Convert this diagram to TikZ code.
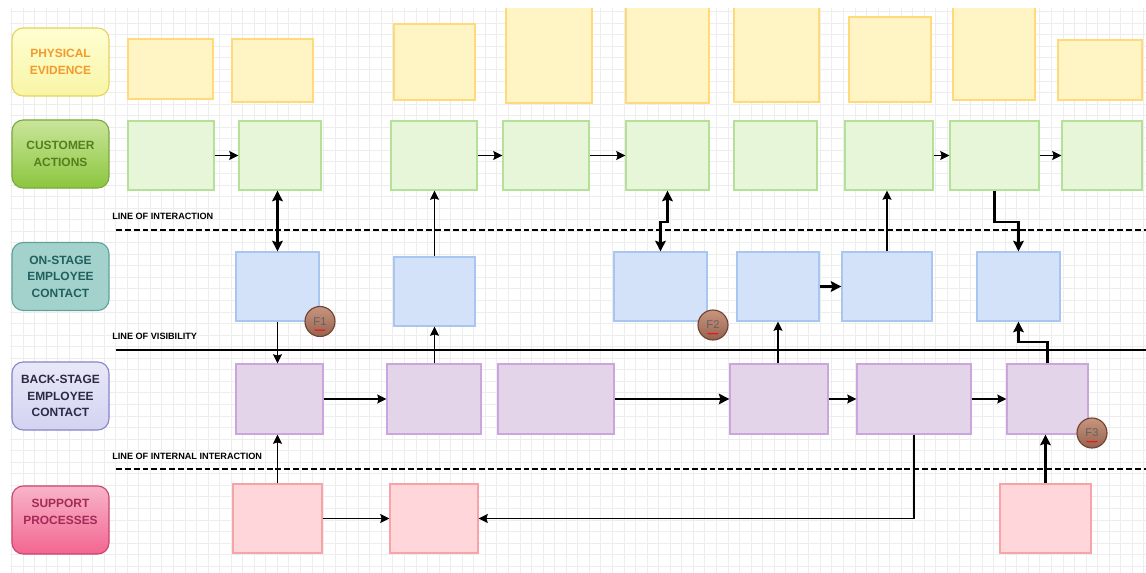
\documentclass[tikz,border=0pt]{standalone}
\usepackage{fontspec}
\setmainfont{Liberation Sans}
\usepackage{tikz}
\usetikzlibrary{arrows.meta, decorations.pathmorphing}

\definecolor{gridgray}{HTML}{EDEDED}
\definecolor{evidfill}{HTML}{FFF4C4}
\definecolor{evidline}{HTML}{FFD97A}
\definecolor{actfill}{HTML}{E7F5D9}
\definecolor{actline}{HTML}{B5E09A}
\definecolor{onfill}{HTML}{D3E2F8}
\definecolor{online}{HTML}{A8C6F0}
\definecolor{backfill}{HTML}{E3D4EA}
\definecolor{backline}{HTML}{CBA6DC}
\definecolor{suppfill}{HTML}{FFD6DA}
\definecolor{suppline}{HTML}{F8A3A8}
\definecolor{failtop}{HTML}{C8967F}
\definecolor{failbot}{HTML}{966250}
\definecolor{failline}{HTML}{6E4332}
% lane title colours
\definecolor{peline}{HTML}{E8D25A}
\definecolor{petop}{HTML}{FEFED2}
\definecolor{pebot}{HTML}{F8F5A6}
\definecolor{petext}{HTML}{F39A2E}
\definecolor{caline}{HTML}{7DA83E}
\definecolor{catop}{HTML}{C9E59A}
\definecolor{cabot}{HTML}{8CC63F}
\definecolor{catext}{HTML}{557F1E}
\definecolor{osline}{HTML}{5FA29C}
\definecolor{osfill}{HTML}{A3D2CC}
\definecolor{ostext}{HTML}{215F5F}
\definecolor{bsline}{HTML}{8585CC}
\definecolor{bstop}{HTML}{E8E8F8}
\definecolor{bsbot}{HTML}{D3D3F1}
\definecolor{bstext}{HTML}{2A2A44}
\definecolor{spline}{HTML}{C8466E}
\definecolor{sptop}{HTML}{F8B4CA}
\definecolor{spbot}{HTML}{F26690}
\definecolor{sptext}{HTML}{A32A55}

\begin{document}
\begin{tikzpicture}[x=0.025cm, y=-0.025cm]
    \tikzstyle{lane} = [rectangle, rounded corners=8pt, minimum width=2.425cm, minimum height=1.7cm, align=center, line width=0.8pt, font=\bfseries\fontsize{8.5}{11.7}\selectfont]
    \tikzstyle{evidence} = [rectangle, inner sep=0, draw=evidline, fill=evidfill, line width=0.9pt]
    \tikzstyle{action} = [rectangle, inner sep=0, minimum height=1.725cm, draw=actline, fill=actfill, line width=0.9pt]
    \tikzstyle{onstage} = [rectangle, inner sep=0, minimum height=1.725cm, draw=online, fill=onfill, line width=0.9pt]
    \tikzstyle{backstage} = [rectangle, inner sep=0, minimum height=1.75cm, draw=backline, fill=backfill, line width=0.9pt]
    \tikzstyle{support} = [rectangle, inner sep=0, minimum height=1.725cm, draw=suppline, fill=suppfill, line width=0.9pt]
    \tikzstyle{linelabel} = [anchor=west, inner sep=0, font=\bfseries\fontsize{6.5}{8}\selectfont]
    \tikzstyle{failpoint} = [circle, minimum size=0.75cm, inner sep=0, top color=failtop, bottom color=failbot, draw=failline, line width=0.8pt, text=black!62, font=\fontsize{8}{9}\selectfont]
    \tikzstyle{squiggle} = [red, line width=0.45pt, decorate, decoration={snake, amplitude=0.35pt, segment length=1.6pt}]
    \tikzstyle{arrow} = [line width=0.8pt, ->, >={Stealth[length=6.5pt, width=6.5pt, inset=1pt]}]
    \tikzstyle{thickarrow} = [line width=1.6pt, ->, >={Stealth[length=7.5pt, width=7.5pt, inset=1.2pt]}]

    % canvas and grid
    \useasboundingbox (0,0) rectangle (1146,573);
    \fill [white] (0,0) rectangle (1146,573);
    \draw [gridgray, line width=0.5pt, step=0.28875cm] (10,8) grid (1146,573);

    % lane titles
    \node (pe) [lane, draw=peline, top color=petop, bottom color=pebot, text=petext] at (60.5,62) {PHYSICAL\\EVIDENCE};
    \node (ca) [lane, draw=caline, top color=catop, bottom color=cabot, text=catext] at (60.5,154) {CUSTOMER\\ACTIONS};
    \node (os) [lane, draw=osline, fill=osfill, text=ostext] at (60.5,276.5) {ON-STAGE\\EMPLOYEE\\CONTACT};
    \node (bs) [lane, draw=bsline, top color=bstop, bottom color=bsbot, text=bstext] at (60.5,396) {BACK-STAGE\\EMPLOYEE\\CONTACT};
    \node (sp) [lane, draw=spline, top color=sptop, bottom color=spbot, text=sptext] at (60.5,520) {SUPPORT\\PROCESSES\\ \mbox{}};

    % separation lines
    \node (interaction) [linelabel] at (112,216) {LINE OF INTERACTION};
    \node (visibility) [linelabel] at (112,336) {LINE OF VISIBILITY};
    \node (internal) [linelabel] at (112,456) {LINE OF INTERNAL INTERACTION};
    \draw [line width=1.4pt, dash pattern=on 4.2pt off 2.1pt] (116,230) -- (1146,230);
    \draw [line width=1.3pt] (116,350) -- (1146,350);
    \draw [line width=1.4pt, dash pattern=on 4.2pt off 2.1pt] (116,469) -- (1146,469);

    % physical evidence
    \node (pe1) [evidence, minimum width=2.125cm, minimum height=1.5cm] at (170.5,69) {};
    \node (pe2) [evidence, minimum width=2.025cm, minimum height=1.575cm] at (272.5,70.5) {};
    \node (pe3) [evidence, minimum width=2.025cm, minimum height=1.9cm] at (434.5,62) {};
    \node (pe4) [evidence, minimum width=2.15cm, minimum height=2.5cm] at (549,53) {};
    \node (pe5) [evidence, minimum width=2.075cm, minimum height=2.5cm] at (667.5,53) {};
    \node (pe6) [evidence, minimum width=2.125cm, minimum height=2.475cm] at (776.5,52.5) {};
    \node (pe7) [evidence, minimum width=2.05cm, minimum height=2.125cm] at (890,59.5) {};
    \node (pe8) [evidence, minimum width=2.05cm, minimum height=2.425cm] at (994,51.5) {};
    \node (pe9) [evidence, minimum width=2.1cm, minimum height=1.5cm] at (1100,70) {};
    \fill [white] (0,0) rectangle (1146,8);

    % customer actions
    \node (ca1) [action, minimum width=2.15cm] at (171,155.5) {};
    \node (ca2) [action, minimum width=2.05cm] at (280,155.5) {};
    \node (ca3) [action, minimum width=2.15cm] at (434,155.5) {};
    \node (ca4) [action, minimum width=2.15cm] at (546,155.5) {};
    \node (ca5) [action, minimum width=2.075cm] at (667.5,155.5) {};
    \node (ca6) [action, minimum width=2.075cm] at (775.5,155.5) {};
    \node (ca7) [action, minimum width=2.2cm] at (889,155.5) {};
    \node (ca8) [action, minimum width=2.225cm] at (994.5,155.5) {};
    \node (ca9) [action, minimum width=2.0cm] at (1102,155.5) {};

    % on-stage contact
    \node (os1) [onstage, minimum width=2.075cm] at (277.5,286.5) {};
    \node (os2) [onstage, minimum width=2.025cm] at (434.5,291.5) {};
    \node (os3) [onstage, minimum width=2.325cm] at (660.5,286.5) {};
    \node (os4) [onstage, minimum width=2.05cm] at (778,286.5) {};
    \node (os5) [onstage, minimum width=2.25cm] at (887,286.5) {};
    \node (os6) [onstage, minimum width=2.075cm] at (1018.5,286.5) {};

    % back-stage contact
    \node (bs1) [backstage, minimum width=2.175cm] at (279.5,399) {};
    \node (bs2) [backstage, minimum width=2.35cm] at (434,399) {};
    \node (bs3) [backstage, minimum width=2.9cm] at (556,399) {};
    \node (bs4) [backstage, minimum width=2.45cm] at (779,399) {};
    \node (bs5) [backstage, minimum width=2.85cm] at (914,399) {};
    \node (bs6) [backstage, minimum width=2.025cm] at (1047.5,399) {};

    % support processes
    \node (sp1) [support, minimum width=2.225cm] at (277.5,518.5) {};
    \node (sp2) [support, minimum width=2.2cm] at (434,518.5) {};
    \node (sp3) [support, minimum width=2.275cm] at (1045.5,518.5) {};

    % flow
    \draw [arrow] (ca1) -- (ca2);
    \draw [arrow] (ca3) -- (ca4);
    \draw [arrow] (ca4) -- (ca5);
    \draw [arrow] (ca7) -- (ca8);
    \draw [arrow] (ca8) -- (ca9);
    \draw [thickarrow, <->] (os1.north) -- (os1.north |- ca2.south);
    \draw [arrow] (os1.south) -- (os1.south |- bs1.north);
    \draw [arrow] (sp1.north) -- (sp1.north |- bs1.south);
    \draw [arrow] (bs1) -- (bs2);
    \draw [arrow] (bs2.north -| os2.south) -- (os2.south);
    \draw [arrow] (os2.north) -- (os2.north |- ca3.south);
    \draw [thickarrow] (bs3) -- (bs4);
    \draw [thickarrow, <->] (ca5.south) -- ++(0,31) -| (os3.north);
    \draw [arrow] (bs4.north -| os4.south) -- (os4.south);
    \draw [thickarrow] (os4) -- (os5);
    \draw [arrow] (os5.north) -- (os5.north |- ca7.south);
    \draw [arrow] (bs4) -- (bs5);
    \draw [arrow] (bs5.south) |- (sp2.east);
    \draw [arrow] (sp1) -- (sp2);
    \draw [arrow] (bs5) -- (bs6);
    \draw [thickarrow] (sp3.north) -- (sp3.north |- bs6.south);
    \draw [thickarrow] (bs6.north) -- ++(0,-21) -| (os6.south);
    \draw [thickarrow] (ca8.south) -- ++(0,31) -| (os6.north);

    % fail points
    \node (f1) [failpoint] at (320,321.5) {F1};
    \node (f2) [failpoint] at (713,325) {F2};
    \node (f3) [failpoint] at (1092,433) {F3};
    \draw [squiggle] ([xshift=-3.8pt, yshift=-6.2pt]f1.center) -- ([xshift=3.8pt, yshift=-6.2pt]f1.center);
    \draw [squiggle] ([xshift=-3.8pt, yshift=-6.2pt]f2.center) -- ([xshift=3.8pt, yshift=-6.2pt]f2.center);
    \draw [squiggle] ([xshift=-3.8pt, yshift=-6.2pt]f3.center) -- ([xshift=3.8pt, yshift=-6.2pt]f3.center);
\end{tikzpicture}
\end{document}
